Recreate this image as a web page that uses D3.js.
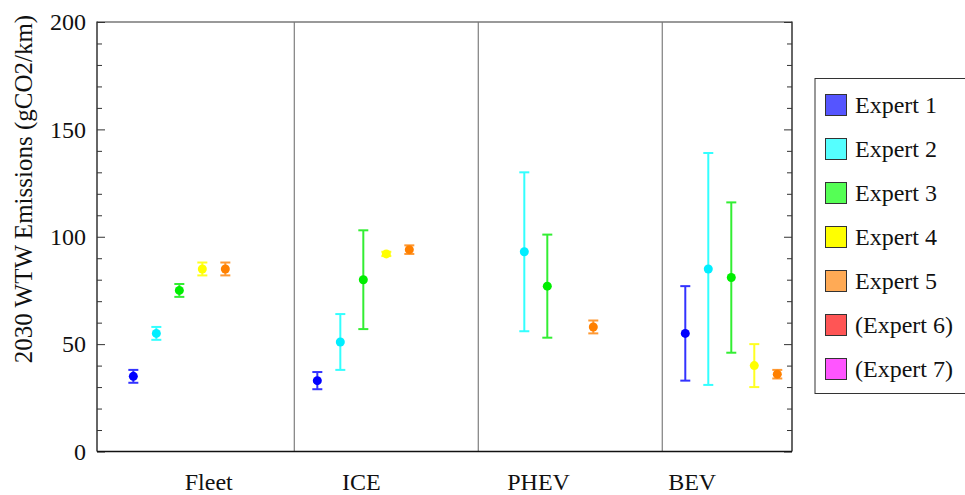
<!DOCTYPE html>
<html>
<head>
<meta charset="utf-8">
<script src="https://cdn.jsdelivr.net/npm/d3@7"></script>
<style>
  body { margin: 0; background: #fff; }
  text { font-family: "Liberation Serif", "Times New Roman", serif; fill: #111; }
</style>
</head>
<body>
<svg id="viz" width="965" height="495"></svg>
<script>
// categories and where their labels sit (in slot units)
var categories = ["Fleet", "ICE", "PHEV", "BEV"];
var categoryLabelPos = [3.28, 9.91, 17.62, 24.3];
var separatorPos = [7, 15, 23];

var experts = ["Expert 1", "Expert 2", "Expert 3", "Expert 4", "Expert 5", "(Expert 6)", "(Expert 7)"];
var dotColors = ["#0000ff", "#00eeff", "#00ee00", "#ffff00", "#ff8000"];
var barColors = ["#3333ff", "#33ffff", "#33ee33", "#ffff22", "#ff9933"];
var legendColors = ["#5555ff", "#55ffff", "#55ff55", "#ffff00", "#ffaa55", "#ff5555", "#ff55ff"];

// per expert: value, low, high for Fleet, ICE, PHEV, BEV
var mid = [
  [35, 33, null, 55],
  [55, 51, 93, 85],
  [75, 80, 77, 81],
  [85, 92, null, 40],
  [85, 94, 58, 36]
];
var low = [
  [32, 29, null, 33],
  [52, 38, 56, 31],
  [72, 57, 53, 46],
  [82, 91, null, 30],
  [82, 92, 55, 34]
];
var high = [
  [38, 37, null, 77],
  [58, 64, 130, 139],
  [78, 103, 101, 116],
  [88, 93, null, 50],
  [88, 96, 61, 38]
];

var yTicks = [0, 50, 100, 150, 200];

var svg = d3.select("#viz");
var pLeft = 97, pRight = 792, pTop = 22, pBottom = 451.5;

var x = d3.scaleLinear().domain([-1.58, 28.64]).range([pLeft, pRight]);
var y = d3.scaleLinear().domain([0, 200]).range([pBottom, pTop]);

// flatten into points
var points = [];
mid.forEach(function(row, e) {
  row.forEach(function(v, c) {
    if (v == null) return;
    points.push({e: e, c: c, v: v, lo: low[e][c], hi: high[e][c]});
  });
});

// separators
svg.selectAll("line.sep")
  .data(separatorPos)
  .enter()
  .append("line")
  .classed("sep", true)
  .attr("x1", function(d) { return x(d); })
  .attr("x2", function(d) { return x(d); })
  .attr("y1", pTop)
  .attr("y2", pBottom)
  .style("stroke", "#888")
  .style("stroke-width", 1.3);

// frame
svg.append("line").attr("x1", pLeft).attr("x2", pRight).attr("y1", pTop).attr("y2", pTop)
  .style("stroke", "#777").style("stroke-width", 1.3);

var yLeft = d3.axisRight(y).tickValues(d3.range(0, 201, 10)).tickSize(5).tickFormat("");
var gl = svg.append("g").attr("transform", "translate(" + pLeft + ",0)").call(yLeft);
gl.selectAll(".tick line").attr("x2", function(d) { return d % 50 == 0 ? 8 : 5; }).style("stroke", "#333");
gl.select(".domain").remove();
svg.append("line").attr("x1", pLeft).attr("x2", pLeft).attr("y1", pTop - 0.5).attr("y2", pBottom)
  .style("stroke", "#333").style("stroke-width", 1.5);

var yRight = d3.axisLeft(y).tickValues(d3.range(0, 201, 10)).tickSize(5).tickFormat("");
var gr = svg.append("g").attr("transform", "translate(" + pRight + ",0)").call(yRight);
gr.selectAll(".tick line").attr("x2", function(d) { return d % 50 == 0 ? -8 : -5; }).style("stroke", "#333");
gr.select(".domain").remove();
svg.append("line").attr("x1", pRight).attr("x2", pRight).attr("y1", pTop - 0.5).attr("y2", pBottom)
  .style("stroke", "#333").style("stroke-width", 1.5);

svg.append("line").attr("x1", pLeft).attr("x2", pRight).attr("y1", pBottom).attr("y2", pBottom)
  .style("stroke", "#111").style("stroke-width", 1.5);

// tick labels
svg.selectAll("text.ytick")
  .data(yTicks)
  .enter()
  .append("text")
  .classed("ytick", true)
  .attr("x", pLeft - 11)
  .attr("y", function(d) { return y(d); })
  .attr("dy", "0.34em")
  .attr("text-anchor", "end")
  .style("font-size", "24px")
  .text(function(d) { return d; });

svg.selectAll("text.cat")
  .data(categories)
  .enter()
  .append("text")
  .classed("cat", true)
  .attr("x", function(d, i) { return x(categoryLabelPos[i]); })
  .attr("y", 490)
  .attr("text-anchor", "middle")
  .style("font-size", "24px")
  .text(function(d) { return d; });

svg.append("text")
  .attr("transform", "translate(32,189) rotate(-90)")
  .attr("text-anchor", "middle")
  .style("font-size", "25px")
  .text("2030 WTW Emissions (gCO2/km)");

// error bars
var px = function(d) { return x(d.c * 8 + d.e); };
var bars = svg.selectAll("g.bar")
  .data(points)
  .enter()
  .append("g")
  .classed("bar", true)
  .style("stroke", function(d) { return barColors[d.e]; })
  .style("stroke-width", 2);
bars.append("line")
  .attr("x1", px).attr("x2", px)
  .attr("y1", function(d) { return y(d.lo); })
  .attr("y2", function(d) { return y(d.hi); });
bars.append("line")
  .attr("x1", function(d) { return px(d) - 5; }).attr("x2", function(d) { return px(d) + 5; })
  .attr("y1", function(d) { return y(d.lo); }).attr("y2", function(d) { return y(d.lo); });
bars.append("line")
  .attr("x1", function(d) { return px(d) - 5; }).attr("x2", function(d) { return px(d) + 5; })
  .attr("y1", function(d) { return y(d.hi); }).attr("y2", function(d) { return y(d.hi); });

// dots
svg.selectAll("circle")
  .data(points)
  .enter()
  .append("circle")
  .attr("cx", px)
  .attr("cy", function(d) { return y(d.v); })
  .attr("r", 4.5)
  .style("fill", function(d) { return dotColors[d.e]; });

// legend
var legend = svg.append("g");
legend.append("rect")
  .attr("x", 815).attr("y", 78.5).attr("width", 160).attr("height", 315)
  .style("fill", "#fff").style("stroke", "#333").style("stroke-width", 1);
var items = legend.selectAll("g.item")
  .data(experts)
  .enter()
  .append("g")
  .classed("item", true)
  .attr("transform", function(d, i) { return "translate(0," + (94 + i * 44) + ")"; });
items.append("rect")
  .attr("x", 825.5).attr("y", 0.5).attr("width", 21).attr("height", 21)
  .style("fill", function(d, i) { return legendColors[i]; })
  .style("stroke", "#333");
items.append("text")
  .attr("x", 855)
  .attr("y", 19)
  .style("font-size", "24px")
  .text(function(d) { return d; });
</script>
</body>
</html>
